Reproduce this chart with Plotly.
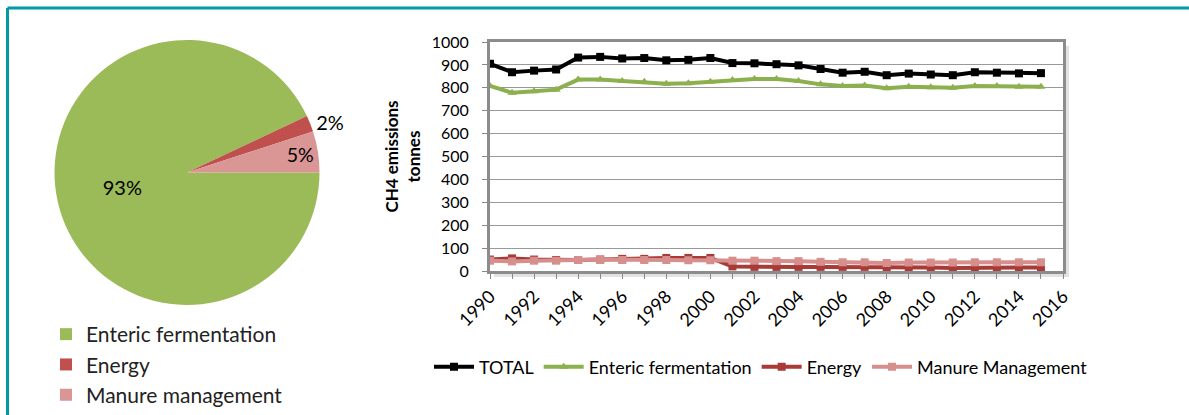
import plotly.graph_objects as go

years = list(range(1990, 2016))
total = [905, 868, 875, 880, 932, 935, 928, 930, 920, 922, 930, 908, 907,
         903, 898, 882, 866, 870, 855, 862, 858, 855, 868, 866, 863, 864]
enteric = [808, 778, 785, 792, 836, 836, 830, 826, 818, 820, 826, 834, 838,
           838, 830, 815, 808, 810, 798, 805, 802, 800, 808, 808, 805, 805]
energy = [50, 55, 50, 48, 48, 50, 53, 53, 57, 57, 57, 20, 18,
          18, 18, 18, 18, 18, 15, 15, 15, 13, 15, 15, 15, 15]
manure = [45, 42, 45, 45, 48, 50, 48, 48, 48, 47, 47, 45, 45,
          43, 43, 40, 38, 38, 35, 37, 37, 37, 38, 38, 38, 38]

pie_labels = ["Enteric fermentation", "Energy", "Manure management"]
pie_values = [93, 2, 5]

FONT = "Lato, sans-serif"
W, H = 1189, 415

fig = go.Figure()

# pie on the left
fig.add_trace(go.Pie(
    labels=pie_labels,
    values=pie_values,
    sort=False,
    direction="clockwise",
    rotation=90,
    marker=dict(colors=["#9BBB59", "#C0504D", "#D99694"]),
    textinfo="percent",
    texttemplate="%{percent:.0%}",
    textposition=["inside", "outside", "inside"],
    insidetextorientation="horizontal",
    textfont=dict(size=20, color="#000000", family=FONT),
    domain=dict(x=[45 / W, 329 / W], y=[1 - 305 / H, 1 - 40 / H]),
    legend="legend",
    hoverinfo="label+percent",
))

# line chart on the right
series = [
    ("TOTAL", total, "#000000", "square"),
    ("Enteric fermentation", enteric, "#8DB04F", "triangle-up"),
    ("Energy", energy, "#A83A37", "square"),
    ("Manure Management", manure, "#D78F8D", "square"),
]
for name, vals, col, sym in series:
    fig.add_trace(go.Scatter(
        x=years, y=vals, name=name, mode="lines+markers",
        line=dict(color=col, width=4),
        marker=dict(symbol=sym, size=8, color=col),
        xaxis="x", yaxis="y", legend="legend2",
    ))

fig.update_layout(
    width=W, height=H,
    margin=dict(l=0, r=0, t=0, b=0, autoexpand=False),
    paper_bgcolor="white",
    plot_bgcolor="white",
    font=dict(family=FONT, size=16, color="#000000"),
    xaxis=dict(
        domain=[490 / W, 1063 / W],
        range=[1990, 2016],
        tickmode="linear", tick0=1990, dtick=2,
        tickangle=-45,
        ticks="outside", ticklen=5, tickcolor="#888888",
        minor=dict(dtick=1, ticks="outside", ticklen=5, tickcolor="#888888"),
        showgrid=False, zeroline=False,
        showline=True, linecolor="#8c8c8c", linewidth=3, mirror=True,
        tickfont=dict(size=18),
        automargin=False,
    ),
    yaxis=dict(
        domain=[1 - 271 / H, 1 - 42 / H],
        range=[0, 1000],
        dtick=100,
        ticks="outside", ticklen=5, tickcolor="#888888",
        ticklabelstandoff=10,
        showgrid=True, gridcolor="#999999", gridwidth=1,
        zeroline=False,
        showline=True, linecolor="#8c8c8c", linewidth=3, mirror=True,
        tickfont=dict(size=16),
        title=dict(text="<b>CH4 emissions<br>tonnes</b>", font=dict(size=17),
                   standoff=7),
        automargin=False,
    ),
    legend=dict(
        x=46 / W, y=1 - 314 / H, xanchor="left", yanchor="top",
        orientation="v", font=dict(size=21, color="#222222"),
        itemwidth=30,
        bgcolor="rgba(0,0,0,0)",
    ),
    legend2=dict(
        x=429 / W, y=1 - 367 / H, xanchor="left", yanchor="middle",
        orientation="h", font=dict(size=18),
        itemwidth=40,
        bgcolor="rgba(0,0,0,0)",
    ),
    shapes=[
        # teal frame
        dict(type="line", xref="paper", yref="paper",
             x0=7.5 / W, x1=1, y0=1 - 8 / H, y1=1 - 8 / H,
             line=dict(color="#0099A6", width=3)),
        dict(type="line", xref="paper", yref="paper",
             x0=7.5 / W, x1=7.5 / W, y0=0, y1=1 - 8 / H,
             line=dict(color="#0099A6", width=3)),
        # soft shadow of the plot box
        dict(type="rect", xref="x domain", yref="y domain",
             x0=1, x1=1 + 6 / 573, y0=-6 / 229, y1=1 - 4 / 229,
             fillcolor="#e2e2e2", line=dict(width=0), layer="below"),
        dict(type="rect", xref="x domain", yref="y domain",
             x0=4 / 573, x1=1 + 6 / 573, y0=-6 / 229, y1=0,
             fillcolor="#e2e2e2", line=dict(width=0), layer="below"),
    ],
)

fig.write_html("out.html", config={"displayModeBar": False},
               post_script="document.body.style.margin='0';")
